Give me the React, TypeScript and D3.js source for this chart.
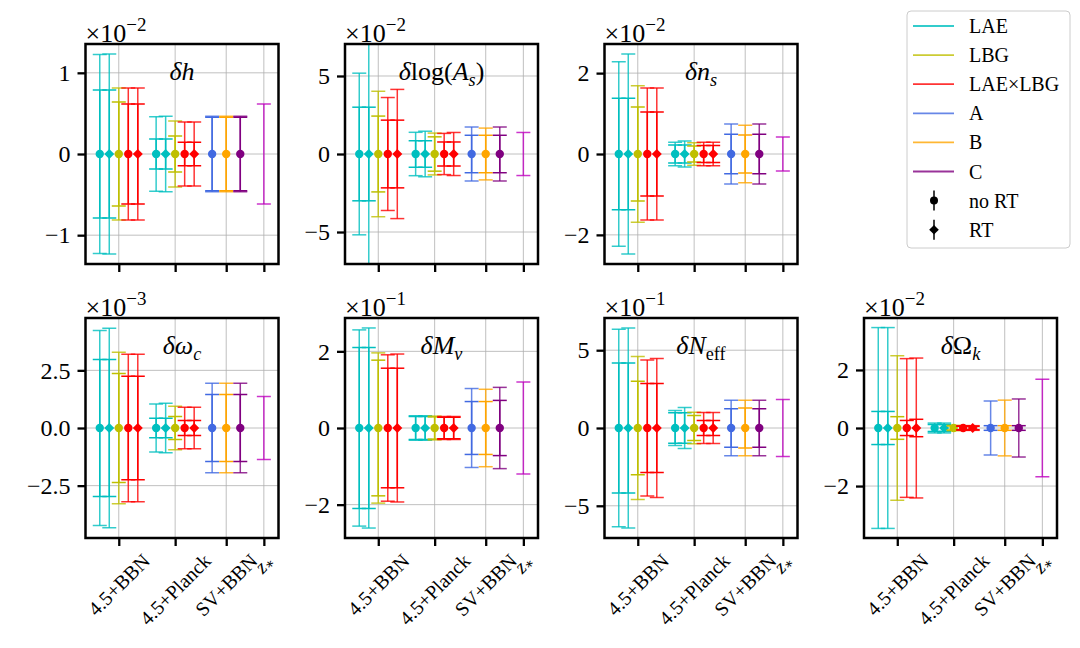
import { useRef, useEffect } from "react";
import * as d3 from "d3";

// x categories
const groupLabels = ["4.5+BBN", "4.5+Planck", "SV+BBN", "z*"];
const groupCenters = [0, 0.593, 1.13, 1.526];
const xDomain = [-0.35, 1.68];

// one entry per plotted point (13 points + z* bar)
const barGroup = [0, 0, 0, 0, 0, 1, 1, 1, 1, 1, 2, 2, 2];
const barOffset = [-0.2, -0.1, 0, 0.1, 0.2, -0.2, -0.1, 0, 0.1, 0.2, -0.148, 0, 0.148];
const barSeries = [
  "LAE", "LAE", "LBG", "LAE×LBG", "LAE×LBG",
  "LAE", "LAE", "LBG", "LAE×LBG", "LAE×LBG",
  "A", "B", "C",
];
const barRT = [false, true, false, false, true, false, true, false, false, true, false, false, false];

const seriesNames = ["LAE", "LBG", "LAE×LBG", "A", "B", "C"];
const seriesColors = ["#00bfbf", "#bfbf00", "#ff0000", "#4169e1", "#ffa500", "#800080"];
const zstarColor = "#bf00bf";

// panels
const panelExponent = [-2, -2, -2, -3, -1, -1, -2];
const panelYMax = [1.355, 7.05, 2.72, 4.77, 2.87, 7.07, 3.79];
const panelYTicks = [
  [-1, 0, 1],
  [-5, 0, 5],
  [-2, 0, 2],
  [-2.5, 0, 2.5],
  [-2, 0, 2],
  [-5, 0, 5],
  [-2, 0, 2],
];

// errors, in units of 10^exponent
const hOuter = [1.225, 1.232, 0.813, 0.813, 0.813, 0.458, 0.466, 0.405, 0.394, 0.394, 0.466, 0.466, 0.466];
const hInner = [0.787, 0.787, 0.642, 0.616, 0.616, 0.185, 0.185, 0.222, 0.146, 0.146, 0.452, 0.452, 0.452];
const asOuter = [5.18, 9.0, 4.02, 3.62, 4.14, 1.39, 1.46, 1.34, 1.32, 1.38, 1.73, 1.66, 1.73];
const asInner = [3.0, 3.0, 2.43, 2.17, 2.17, 0.85, 0.85, 1.1, 0.77, 0.77, 1.2, 1.2, 1.2];
const nsOuter = [2.28, 2.47, 1.69, 1.63, 1.63, 0.29, 0.32, 0.28, 0.29, 0.29, 0.74, 0.71, 0.74];
const nsInner = [1.38, 1.38, 1.16, 1.04, 1.04, 0.22, 0.22, 0.2, 0.21, 0.21, 0.49, 0.47, 0.49];
const wcOuter = [4.23, 4.33, 3.29, 3.2, 3.2, 1.04, 1.07, 0.94, 0.9, 0.9, 1.94, 1.94, 1.94];
const wcInner = [2.97, 2.97, 2.36, 2.24, 2.24, 0.42, 0.42, 0.5, 0.33, 0.33, 1.45, 1.45, 1.45];
const mnuOuter = [2.56, 2.61, 1.96, 1.91, 1.93, 0.32, 0.32, 0.31, 0.3, 0.3, 1.03, 1.01, 1.06];
const mnuInner = [2.1, 2.1, 1.77, 1.56, 1.56, 0.3, 0.3, 0.29, 0.28, 0.28, 0.69, 0.69, 0.72];
const neffOuter = [6.35, 6.43, 4.6, 4.37, 4.47, 1.13, 1.32, 1.02, 0.99, 0.99, 1.78, 1.78, 1.78];
const neffInner = [4.18, 4.18, 3.0, 2.86, 2.86, 0.98, 0.98, 0.8, 0.49, 0.49, 1.23, 1.29, 1.23];
const okOuter = [3.46, 3.46, 2.49, 2.39, 2.41, 0.17, 0.17, 0.09, 0.08, 0.08, 0.93, 0.96, 1.0];
const okInner = [0.57, 0.57, 0.39, 0.26, 0.3, 0.12, 0.12, 0.07, 0.06, 0.06, 0.08, 0.08, 0.08];
const zstarErr = [0.616, 1.38, 0.42, 1.37, 1.2, 1.83, 1.68];

const panelOuter = [hOuter, asOuter, nsOuter, wcOuter, mnuOuter, neffOuter, okOuter];
const panelInner = [hInner, asInner, nsInner, wcInner, mnuInner, neffInner, okInner];

type Part = { t: string; it?: boolean; sub?: boolean };
const panelTitles: Part[][] = [
  [{ t: "δh", it: true }],
  [{ t: "δ", it: true }, { t: "log(" }, { t: "A", it: true }, { t: "s", it: true, sub: true }, { t: ")" }],
  [{ t: "δn", it: true }, { t: "s", it: true, sub: true }],
  [{ t: "δω", it: true }, { t: "c", it: true, sub: true }],
  [{ t: "δM", it: true }, { t: "ν", it: true, sub: true }],
  [{ t: "δN", it: true }, { t: "eff", sub: true }],
  [{ t: "δ", it: true }, { t: "Ω" }, { t: "k", it: true, sub: true }],
];

const W = 1080;
const H = 648;
const colLeft = [85.5, 345, 604.5, 864];
const rowTop = [44, 318];
const axW = 193;
const axH = 220;
const panelCell = [
  [0, 0], [0, 1], [0, 2],
  [1, 0], [1, 1], [1, 2], [1, 3],
];
const FONT = "'Liberation Serif', 'DejaVu Serif', serif";

function addParts(
  text: d3.Selection<SVGTextElement, unknown, null, undefined>,
  parts: Part[],
  size: number
) {
  let shifted = false;
  parts.forEach((p) => {
    const ts = text.append("tspan").text(p.t).attr("font-style", p.it ? "italic" : "normal");
    if (p.sub) {
      ts.attr("font-size", size * 0.7).attr("dy", size * 0.22);
      shifted = true;
    } else {
      ts.attr("font-size", size);
      if (shifted) {
        ts.attr("dy", -size * 0.22);
        shifted = false;
      }
    }
  });
}

export default function App() {
  const ref = useRef<SVGSVGElement>(null);

  useEffect(() => {
    if (!ref.current) return;
    const svg = d3.select(ref.current);
    svg.selectAll("*").remove();

    panelCell.forEach(([row, col], p) => {
      const left = colLeft[col];
      const top = rowTop[row];
      const g = svg.append("g").attr("transform", `translate(${left},${top})`);

      const x = d3.scaleLinear().domain(xDomain).range([0, axW]);
      const yMax = panelYMax[p];
      const y = d3.scaleLinear().domain([-yMax, yMax]).range([axH, 0]);

      const clipId = `clip-${p}`;
      g.append("clipPath")
        .attr("id", clipId)
        .append("rect")
        .attr("width", axW)
        .attr("height", axH);

      // grid
      const grid = g.append("g").attr("stroke", "#b0b0b0").attr("stroke-width", 0.8);
      panelYTicks[p].forEach((t) =>
        grid.append("line").attr("x1", 0).attr("x2", axW).attr("y1", y(t)).attr("y2", y(t))
      );
      groupCenters.forEach((c) =>
        grid.append("line").attr("x1", x(c)).attr("x2", x(c)).attr("y1", 0).attr("y2", axH)
      );

      const plot = g.append("g").attr("clip-path", `url(#${clipId})`);
      const cap = 7;
      const drawBar = (cx: number, err: number, color: string, opacity: number) => {
        const bar = plot
          .append("g")
          .attr("stroke", color)
          .attr("stroke-opacity", opacity)
          .attr("stroke-width", 1.5)
          .attr("fill", "none");
        bar.append("line").attr("x1", cx).attr("x2", cx).attr("y1", y(-err)).attr("y2", y(err));
        [-err, err].forEach((e) =>
          bar
            .append("line")
            .attr("x1", cx - cap)
            .attr("x2", cx + cap)
            .attr("y1", y(e))
            .attr("y2", y(e))
        );
      };

      barGroup.forEach((gi, i) => {
        const cx = x(groupCenters[gi] + barOffset[i]);
        const color = seriesColors[seriesNames.indexOf(barSeries[i])];
        drawBar(cx, panelOuter[p][i], color, 0.8);
        drawBar(cx, panelInner[p][i], color, 1);
        if (barRT[i]) {
          const r = 5;
          plot
            .append("path")
            .attr("d", `M${cx},${y(0) - r}L${cx + r},${y(0)}L${cx},${y(0) + r}L${cx - r},${y(0)}Z`)
            .attr("fill", color);
        } else {
          plot.append("circle").attr("cx", cx).attr("cy", y(0)).attr("r", 4.2).attr("fill", color);
        }
      });
      drawBar(x(groupCenters[3]), zstarErr[p], zstarColor, 0.8);

      // y axis
      const isOneDecimal = panelYTicks[p].some((t) => !Number.isInteger(t));
      const yAxis = g
        .append("g")
        .call(
          d3
            .axisLeft(y)
            .tickValues(panelYTicks[p])
            .tickSize(8)
            .tickPadding(7)
            .tickFormat((d) => d3.format(isOneDecimal ? ".1f" : "d")(d as number))
        );
      yAxis.attr("font-family", FONT);
      yAxis.select(".domain").remove();
      yAxis.selectAll(".tick line").attr("stroke-width", 2.3);
      yAxis
        .selectAll(".tick text")
        .attr("font-size", 24)
        .attr("font-family", FONT)
        .attr("fill", "#000");

      // x axis
      const xAxis = g
        .append("g")
        .attr("transform", `translate(0,${axH})`)
        .call(d3.axisBottom(x).tickValues(groupCenters).tickSize(8).tickFormat(() => ""));
      xAxis.select(".domain").remove();
      xAxis.selectAll(".tick line").attr("stroke-width", 2.3);

      // rotated category labels, bottom row only
      if (row === 1) {
        groupLabels.forEach((lab, k) => {
          const t = g
            .append("text")
            .attr("font-family", FONT)
            .attr("font-size", 20)
            .attr("text-anchor", "middle")
            .attr("dominant-baseline", "central");
          if (lab === "z*") {
            t.append("tspan").text("z").attr("font-style", "italic");
            t.append("tspan").text("∗").attr("font-size", 14).attr("dy", 4);
          } else {
            t.text(lab);
          }
          const L = (t.node() as SVGTextElement).getComputedTextLength();
          const size = (L + 15) / Math.SQRT2;
          t.attr("transform", `translate(${x(groupCenters[k])},${axH + 14 + size / 2}) rotate(-45)`);
        });
      }

      // spines
      g.append("rect")
        .attr("width", axW)
        .attr("height", axH)
        .attr("fill", "none")
        .attr("stroke", "#000")
        .attr("stroke-width", 2.5);

      // offset text
      const off = g
        .append("text")
        .attr("x", 0)
        .attr("y", -2)
        .attr("font-family", FONT)
        .attr("font-size", 26);
      off.append("tspan").text("×10");
      off
        .append("tspan")
        .text(d3.format("d")(panelExponent[p]))
        .attr("font-size", 19)
        .attr("dy", -11);

      // title
      const title = g
        .append("text")
        .attr("x", axW / 2)
        .attr("y", 36)
        .attr("text-anchor", "middle")
        .attr("font-family", FONT);
      addParts(title, panelTitles[p], 26);
    });

    // legend
    const lg = svg.append("g").attr("transform", "translate(907,11)");
    lg.append("rect")
      .attr("width", 163)
      .attr("height", 237)
      .attr("rx", 4)
      .attr("fill", "#fff")
      .attr("fill-opacity", 0.8)
      .attr("stroke", "#cccccc")
      .attr("stroke-width", 1);
    const rowY = (i: number) => 15 + i * 29.1;
    seriesNames.forEach((name, i) => {
      lg.append("line")
        .attr("x1", 6)
        .attr("x2", 47)
        .attr("y1", rowY(i))
        .attr("y2", rowY(i))
        .attr("stroke", seriesColors[i])
        .attr("stroke-opacity", 0.8)
        .attr("stroke-width", 1.8);
      lg.append("text")
        .attr("x", 62)
        .attr("y", rowY(i))
        .attr("dominant-baseline", "central")
        .attr("font-family", FONT)
        .attr("font-size", 20)
        .text(name);
    });
    ["no RT", "RT"].forEach((name, k) => {
      const cy = rowY(6 + k);
      const cx = 27;
      lg.append("line")
        .attr("x1", cx)
        .attr("x2", cx)
        .attr("y1", cy - 10)
        .attr("y2", cy + 10)
        .attr("stroke", "#000")
        .attr("stroke-width", 1.5);
      if (k === 0) {
        lg.append("circle").attr("cx", cx).attr("cy", cy).attr("r", 4).attr("fill", "#000");
      } else {
        const r = 4.8;
        lg.append("path")
          .attr("d", `M${cx},${cy - r}L${cx + r},${cy}L${cx},${cy + r}L${cx - r},${cy}Z`)
          .attr("fill", "#000");
      }
      lg.append("text")
        .attr("x", 62)
        .attr("y", cy)
        .attr("dominant-baseline", "central")
        .attr("font-family", FONT)
        .attr("font-size", 20)
        .text(name);
    });
  }, []);

  return (
    <svg
      ref={ref}
      width={W}
      height={H}
      style={{ position: "absolute", left: 0, top: 0, background: "#fff" }}
    />
  );
}
